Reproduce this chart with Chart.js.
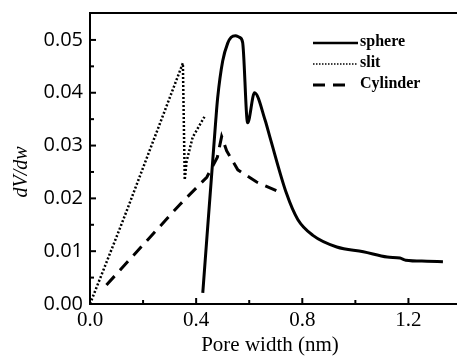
<!DOCTYPE html>
<html><head><meta charset="utf-8">
<script src="https://cdn.jsdelivr.net/npm/chart.js@4"></script>
<style>html,body{margin:0;padding:0;background:#fff;overflow:hidden}</style>
</head><body>
<canvas id="c" width="457" height="360"></canvas>
<script>
// ---- data ----
const sphereX = [0.425, 0.474, 0.481, 0.500, 0.519, 0.532, 0.548, 0.563, 0.575, 0.594, 0.620, 0.660, 0.678, 0.740, 0.783, 0.840, 0.930, 1.030, 1.120, 1.168, 1.190, 1.270, 1.330];
const sphereY = [0.0021, 0.0348, 0.0390, 0.0460, 0.0494, 0.0505, 0.0508, 0.0505, 0.0496, 0.0343, 0.0400, 0.0348, 0.0316, 0.0210, 0.0160, 0.0130, 0.0108, 0.0099, 0.0089, 0.0087, 0.0083, 0.0081, 0.0080];
const slitX = [0.0, 0.125, 0.350, 0.357, 0.364, 0.387, 0.432];
const slitY = [0.0, 0.0159, 0.0456, 0.0235, 0.0270, 0.0316, 0.0355];
const cylX = [0.062, 0.338, 0.440, 0.480, 0.496, 0.515, 0.557, 0.628, 0.715];
const cylY = [0.0036, 0.0188, 0.0240, 0.0278, 0.0317, 0.0290, 0.0254, 0.0231, 0.0212];
const seriesNames = ['sphere', 'slit', 'Cylinder'];
const xTicks = [0.0, 0.4, 0.8, 1.2];
const xMinorTicks = [0.2, 0.6, 1.0];
const yTicks = [0.00, 0.01, 0.02, 0.03, 0.04, 0.05];
const yMinorTicks = [0.005, 0.015, 0.025, 0.035, 0.045];
const xTitle = 'Pore width (nm)';
const yTitle = 'dV/dw';

const pts = (xs, ys) => xs.map((x, i) => ({x: x, y: ys[i]}));
const SERIF = '"Liberation Serif", "DejaVu Serif", serif';
const SANS = '"Open Sans", "DejaVu Sans", sans-serif';

const deco = {
  id: 'deco',
  afterDraw(chart) {
    const ctx = chart.ctx, a = chart.chartArea;
    const xs = chart.scales.x, ys = chart.scales.y;
    ctx.save();
    ctx.strokeStyle = '#000';
    ctx.lineWidth = 2;
    ctx.beginPath(); ctx.moveTo(a.left - 1, a.top); ctx.lineTo(a.right, a.top); ctx.stroke();
    const tick = (v, len, axis) => {
      ctx.beginPath();
      if (axis === 'x') { const p = xs.getPixelForValue(v); ctx.moveTo(p, a.bottom); ctx.lineTo(p, a.bottom - len); }
      else { const p = ys.getPixelForValue(v); ctx.moveTo(a.left, p); ctx.lineTo(a.left + len, p); }
      ctx.stroke();
    };
    xTicks.forEach(v => tick(v, 6, 'x'));
    xMinorTicks.forEach(v => tick(v, 4, 'x'));
    yTicks.forEach(v => tick(v, 6, 'y'));
    yMinorTicks.forEach(v => tick(v, 4, 'y'));
    // legend
    const ly = [43, 64, 85];
    const lx1 = [358, 358, 346];
    const lw = [2.5, 1.5, 3];
    const ldash = [[], [1.5, 1.5], [12, 8]];
    chart.data.datasets.forEach((ds, i) => {
      ctx.save();
      ctx.strokeStyle = '#000';
      ctx.lineWidth = lw[i];
      ctx.setLineDash(ldash[i]);
      ctx.beginPath(); ctx.moveTo(313, ly[i]); ctx.lineTo(lx1[i], ly[i]); ctx.stroke();
      ctx.restore();
      ctx.fillStyle = '#000';
      ctx.font = 'bold 16px ' + SERIF;
      ctx.textAlign = 'left'; ctx.textBaseline = 'middle';
      ctx.fillText(ds.label, 360, ly[i] - 1);
    });
    // axis titles
    ctx.fillStyle = '#000';
    ctx.font = '21px ' + SERIF;
    ctx.textAlign = 'center'; ctx.textBaseline = 'middle';
    ctx.fillText(xTitle, 270, 345);
    ctx.save();
    ctx.translate(22, 172);
    ctx.rotate(-Math.PI / 2);
    ctx.font = 'italic 20px ' + SERIF;
    ctx.fillText(yTitle, 0, 0);
    ctx.restore();
    ctx.restore();
  }
};

new Chart(document.getElementById('c'), {
  type: 'scatter',
  data: {
    datasets: [
      {label: seriesNames[0], data: pts(sphereX, sphereY), showLine: true, borderColor: '#000', borderWidth: 3, pointRadius: 0, cubicInterpolationMode: 'monotone'},
      {label: seriesNames[1], data: pts(slitX, slitY), showLine: true, borderColor: '#000', borderWidth: 2.5, borderDash: [2, 2], pointRadius: 0},
      {label: seriesNames[2], data: pts(cylX, cylY), showLine: true, borderColor: '#000', borderWidth: 3, borderDash: [12, 8], pointRadius: 0}
    ]
  },
  options: {
    responsive: false,
    animation: false,
    layout: {padding: {top: 13, right: 0, left: 0, bottom: 0}},
    plugins: {legend: {display: false}, tooltip: {enabled: false}},
    scales: {
      x: {
        type: 'linear', min: 0, max: 1.383,
        afterBuildTicks: s => { s.ticks = xTicks.map(v => ({value: v})); },
        afterFit: s => { s.height = 56; s.paddingLeft = 0; s.paddingRight = 0; },
        grid: {display: false, drawTicks: false},
        border: {display: true, color: '#000', width: 2},
        ticks: {color: '#000', padding: 4, font: {family: SERIF, size: 21}, maxRotation: 0,
                callback: v => v.toFixed(1)}
      },
      y: {
        type: 'linear', min: 0, max: 0.0551,
        afterBuildTicks: s => { s.ticks = yTicks.map(v => ({value: v})); },
        afterFit: s => { s.width = 90; s.paddingTop = 0; s.paddingBottom = 0; },
        grid: {display: false, drawTicks: false},
        border: {display: true, color: '#000', width: 2},
        ticks: {color: '#000', padding: 7, font: {family: SANS, size: 20, weight: 'normal'},
                callback: v => v.toFixed(2)}
      }
    }
  },
  plugins: [deco]
});
</script>
</body></html>
